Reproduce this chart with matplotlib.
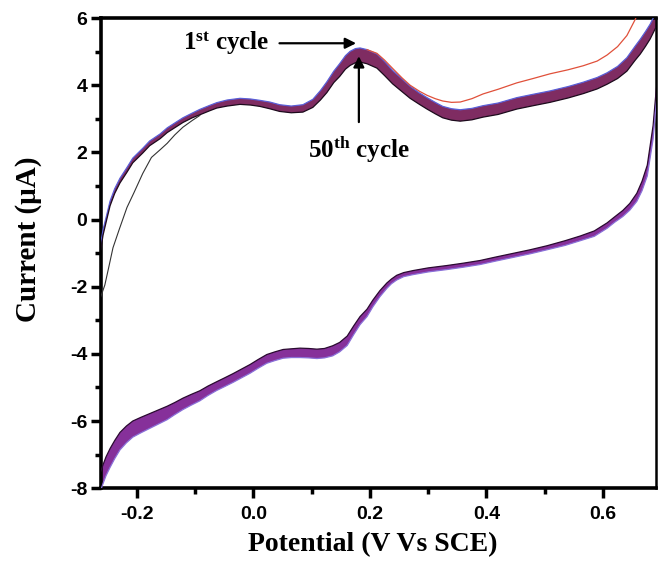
#!/usr/bin/env python3
# coding: utf-8

"""
CV of 50 successive cycles (1st -> 50th), redrawn from the published figure.
The band of overlapping cycles is drawn as a filled region between the
early-cycle edge and the 50th-cycle edge.
"""

import matplotlib
matplotlib.use('Agg')
import matplotlib.pyplot as plt
from matplotlib.ticker import MultipleLocator
import numpy as np

# anodic (forward) sweep: potential in V vs SCE, current in uA
E_FWD = [-0.262, -0.258, -0.252, -0.246, -0.238, -0.229, -0.217, -0.207, -0.19, -0.178,
         -0.16, -0.148, -0.13, -0.121, -0.105, -0.092, -0.075, -0.063, -0.045, -0.023,
         -0.005, 0.011, 0.028, 0.045, 0.065, 0.085, 0.102, 0.115, 0.126, 0.138,
         0.148, 0.158, 0.166, 0.175, 0.183, 0.195, 0.212, 0.225, 0.239, 0.255,
         0.269, 0.285, 0.298, 0.312, 0.325, 0.34, 0.355, 0.375, 0.394, 0.42,
         0.452, 0.48, 0.509, 0.54, 0.566, 0.59, 0.607, 0.625, 0.641, 0.655,
         0.664, 0.673, 0.681, 0.689, 0.698]
I_FWD_EARLY = [-0.7, -0.3, 0.12, 0.55, 0.92, 1.23, 1.55, 1.83, 2.12, 2.34,
               2.55, 2.73, 2.93, 3.03, 3.17, 3.28, 3.4, 3.48, 3.56, 3.61,
               3.59, 3.55, 3.5, 3.42, 3.38, 3.42, 3.58, 3.84, 4.1, 4.42,
               4.64, 4.88, 5.01, 5.09, 5.11, 5.06, 4.93, 4.71, 4.44, 4.19,
               3.97, 3.77, 3.63, 3.49, 3.37, 3.3, 3.27, 3.31, 3.39, 3.47,
               3.63, 3.73, 3.83, 3.96, 4.09, 4.23, 4.37, 4.56, 4.82, 5.16,
               5.37, 5.6, 5.82, 6.1, 6.4]
I_FWD_LAST = [-0.9, -0.46, -0.02, 0.41, 0.78, 1.09, 1.41, 1.69, 1.98, 2.2,
              2.41, 2.59, 2.79, 2.89, 3.03, 3.12, 3.24, 3.32, 3.38, 3.43,
              3.41, 3.37, 3.3, 3.22, 3.18, 3.2, 3.34, 3.56, 3.78, 4.08,
              4.26, 4.48, 4.59, 4.67, 4.69, 4.64, 4.51, 4.29, 4.04, 3.81,
              3.61, 3.43, 3.29, 3.15, 3.03, 2.96, 2.93, 2.97, 3.05, 3.13,
              3.29, 3.39, 3.49, 3.62, 3.75, 3.89, 4.03, 4.2, 4.42, 4.74,
              4.93, 5.16, 5.38, 5.66, 5.96]

# 1st cycle where it leaves the band (red trace)
E_FIRST = [0.195, 0.212, 0.225, 0.239, 0.255, 0.269, 0.285, 0.298, 0.312, 0.325,
           0.34, 0.355, 0.375, 0.394, 0.42, 0.452, 0.48, 0.509, 0.54, 0.566,
           0.59, 0.607, 0.625, 0.641, 0.655, 0.664]
I_FIRST = [5.06, 4.95, 4.75, 4.5, 4.22, 4.0, 3.82, 3.7, 3.6, 3.53,
           3.49, 3.5, 3.6, 3.74, 3.88, 4.07, 4.2, 4.34, 4.46, 4.58,
           4.72, 4.9, 5.15, 5.48, 5.95, 6.3]

# start of the 1st sweep (thin black trace)
E_START = [-0.262, -0.255, -0.248, -0.241, -0.23, -0.217, -0.205, -0.19, -0.175, -0.16,
           -0.148, -0.135, -0.121, -0.105, -0.092]
I_START = [-2.3, -1.95, -1.4, -0.84, -0.28, 0.36, 0.8, 1.37, 1.85, 2.08,
           2.27, 2.52, 2.75, 2.95, 3.1]

# cathodic (reverse) sweep
E_REV = [0.7, 0.691, 0.686, 0.676, 0.667, 0.658, 0.646, 0.634, 0.62, 0.607,
         0.585, 0.561, 0.535, 0.504, 0.475, 0.445, 0.415, 0.389, 0.36, 0.332,
         0.3, 0.274, 0.258, 0.246, 0.237, 0.229, 0.217, 0.205, 0.195, 0.183,
         0.172, 0.161, 0.148, 0.136, 0.122, 0.109, 0.095, 0.08, 0.065, 0.051,
         0.037, 0.023, 0.008, -0.006, -0.02, -0.035, -0.05, -0.063, -0.078, -0.092,
         -0.107, -0.121, -0.135, -0.148, -0.163, -0.178, -0.193, -0.207, -0.218, -0.229,
         -0.238, -0.246, -0.253, -0.258, -0.264, -0.27]
I_REV_LAST = [5.2, 3.8, 2.8, 1.62, 1.14, 0.78, 0.48, 0.27, 0.08, -0.1,
              -0.34, -0.49, -0.63, -0.78, -0.9, -1.01, -1.12, -1.22, -1.3, -1.37,
              -1.44, -1.52, -1.58, -1.66, -1.77, -1.89, -2.12, -2.4, -2.67, -2.89,
              -3.17, -3.47, -3.66, -3.76, -3.84, -3.86, -3.84, -3.83, -3.85, -3.87,
              -3.94, -4.02, -4.17, -4.32, -4.45, -4.59, -4.72, -4.83, -4.96, -5.1,
              -5.21, -5.32, -5.45, -5.56, -5.67, -5.78, -5.89, -6.0, -6.15, -6.34,
              -6.58, -6.82, -7.07, -7.3, -7.6, -8.0]
I_REV_EARLY = [4.8, 3.4, 2.4, 1.3, 0.86, 0.54, 0.28, 0.09, -0.08, -0.26,
               -0.5, -0.63, -0.77, -0.9, -1.02, -1.13, -1.24, -1.34, -1.42, -1.49,
               -1.56, -1.64, -1.7, -1.8, -1.91, -2.05, -2.3, -2.6, -2.89, -3.13,
               -3.43, -3.75, -3.94, -4.06, -4.12, -4.14, -4.12, -4.11, -4.11, -4.13,
               -4.2, -4.28, -4.43, -4.58, -4.71, -4.85, -4.98, -5.09, -5.24, -5.4,
               -5.53, -5.66, -5.81, -5.96, -6.09, -6.22, -6.35, -6.48, -6.65, -6.86,
               -7.12, -7.38, -7.63, -7.86, -8.16, -8.6]

X_TICKS = [-0.2, 0.0, 0.2, 0.4, 0.6]
Y_TICKS = [-8, -6, -4, -2, 0, 2, 4, 6]

SERIF = 'Liberation Serif'
SANS = 'Liberation Sans'


def band(ax, e, hi, lo, fill_color, hi_color, lo_color):
    e = np.asarray(e)
    poly_x = np.concatenate([e, e[::-1]])
    poly_y = np.concatenate([np.asarray(hi), np.asarray(lo)[::-1]])
    ax.fill(poly_x, poly_y, color=fill_color, lw=0, zorder=2)
    ax.plot(e, hi, color=hi_color, lw=0.9, zorder=3)
    ax.plot(e, lo, color=lo_color, lw=0.9, zorder=3)


def main():
    plt.rcParams['axes.unicode_minus'] = False
    plt.rcParams['mathtext.fontset'] = 'custom'
    plt.rcParams['mathtext.rm'] = SERIF + ':bold'
    plt.rcParams['mathtext.bf'] = SERIF + ':bold'
    plt.rcParams['mathtext.it'] = SERIF + ':bold'

    fig = plt.figure(figsize=(6.58, 5.65), dpi=100)
    ax = fig.add_axes([0.154, 0.136, 0.843, 0.832])

    # cycles band
    band(ax, E_FWD, I_FWD_EARLY, I_FWD_LAST, '#7f2c62', '#5a5fd8', '#1c0a1c')
    band(ax, E_REV, I_REV_LAST, I_REV_EARLY, '#86309a', '#2a0a30', '#8a70d8')
    ax.plot(E_FIRST, I_FIRST, color='#e0503a', lw=0.9, zorder=4)
    ax.plot(E_START, I_START, color='#333333', lw=0.8, zorder=4)

    ax.set_xlim(-0.261, 0.691)
    ax.set_ylim(-8, 6)
    ax.set_xticks(X_TICKS)
    ax.set_yticks(Y_TICKS)
    ax.set_xticklabels([f'{v:.1f}' for v in X_TICKS])
    ax.xaxis.set_minor_locator(MultipleLocator(0.1))
    ax.yaxis.set_minor_locator(MultipleLocator(1))
    ax.tick_params(which='both', direction='out', top=False, right=False, width=2.5)
    ax.tick_params(which='major', length=7, labelsize=14)
    ax.tick_params(axis='x', which='major', pad=6)
    ax.tick_params(axis='y', which='major', pad=3)
    ax.tick_params(which='minor', length=4.5)
    for lab in ax.get_xticklabels() + ax.get_yticklabels():
        lab.set_fontfamily(SANS)
        lab.set_fontweight('bold')

    for side in ['left', 'bottom', 'top']:
        ax.spines[side].set_linewidth(2.6)
    ax.spines['right'].set_linewidth(1.8)

    ax.set_xlabel('Potential (V Vs SCE)', family=SERIF, fontweight='bold', fontsize=20)
    ax.xaxis.set_label_coords(0.49, -0.094)
    ax.set_ylabel('Current (\u03bcA)', family=SERIF, fontweight='bold', fontsize=21)
    ax.yaxis.set_label_coords(-0.107, 0.53)

    # cycle annotations
    ax.annotate('', xy=(0.181, 5.25), xytext=(0.04, 5.25),
                arrowprops=dict(arrowstyle='-|>', color='black', lw=1.6, mutation_scale=16))
    ax.text(0.027, 5.25, r'$1^{st}$ cycle', ha='right', va='center',
            family=SERIF, fontweight='bold', fontsize=18)
    ax.annotate('', xy=(0.181, 4.95), xytext=(0.181, 2.82),
                arrowprops=dict(arrowstyle='-|>', color='black', lw=1.6, mutation_scale=16))
    ax.text(0.181, 2.1, r'$50^{th}$ cycle', ha='center', va='center',
            family=SERIF, fontweight='bold', fontsize=18)

    fig.savefig('out.png', dpi=100)
    plt.close(fig)


if __name__ == '__main__':
    main()
